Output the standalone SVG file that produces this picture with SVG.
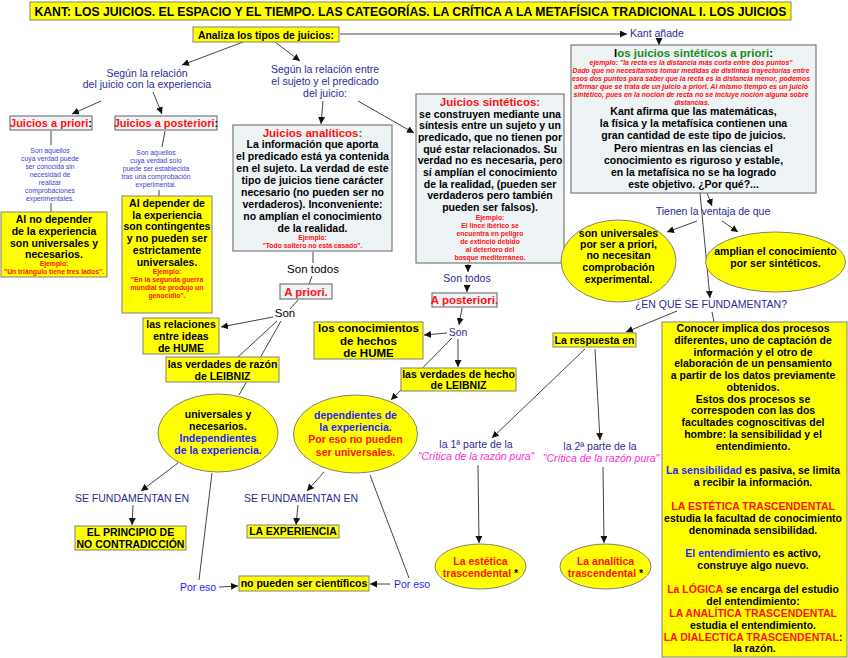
<svg xmlns="http://www.w3.org/2000/svg" width="848" height="658" viewBox="0 0 848 658">
<defs>
<marker id="ah" viewBox="0 0 10 10" refX="10" refY="5" markerWidth="7" markerHeight="7" markerUnits="userSpaceOnUse" orient="auto">
<path d="M0,0 L10,5 L0,10 z" fill="#111"/>
</marker>
<style>
text{font-family:"Liberation Sans",Arial,sans-serif}
.c{text-anchor:middle}
.b{font-weight:bold}
.n{font-size:10.5px}
.s{font-size:6.8px}
.lb{fill:#2b2b95;font-size:10.5px}
.bl{fill:#1f1fff}
.rd{fill:#ff1010}
.gr{fill:#1a8c1a}
.mg{fill:#ff2ad4;font-style:italic}
.sb{fill:#3d3dd6;font-size:6.8px}
.y{fill:#ffff00;stroke:#808080;stroke-width:1}
.g{fill:#eef3f5;stroke:#7a7a7a;stroke-width:1.2}
.conn line{stroke:#444;stroke-width:1;fill:none}
.conn line.a{marker-end:url(#ah)}
</style>
</defs>
<rect width="848" height="658" fill="#fff"/>

<g id="connectors" class="conn">
<line class="a" x1="340" y1="34" x2="627" y2="34"/>
<line class="a" x1="659" y1="38" x2="659" y2="45"/>
<line class="a" x1="243" y1="42" x2="182" y2="65"/>
<line class="a" x1="275" y1="42" x2="300" y2="61"/>
<line class="a" x1="101" y1="101" x2="72" y2="114"/>
<line class="a" x1="153" y1="92" x2="162" y2="114"/>
<line x1="51" y1="131" x2="51" y2="145"/>
<line x1="51" y1="203" x2="51" y2="212"/>
<line x1="165" y1="131" x2="162" y2="147"/>
<line x1="159" y1="190" x2="159" y2="196"/>
<line class="a" x1="323" y1="101" x2="321" y2="124"/>
<line class="a" x1="358" y1="101" x2="414" y2="133"/>
<line x1="313" y1="252" x2="313" y2="263"/>
<line x1="312" y1="276" x2="309" y2="284"/>
<line x1="298" y1="300" x2="290" y2="309"/>
<line class="a" x1="273" y1="317" x2="221" y2="327"/>
<line x1="277" y1="321" x2="238" y2="357"/>
<line x1="281" y1="321" x2="239" y2="395"/>
<line class="a" x1="178" y1="463" x2="141" y2="491"/>
<line class="a" x1="133" y1="505" x2="132" y2="525"/>
<line x1="212" y1="473" x2="199" y2="580"/>
<line class="a" x1="219" y1="587" x2="238" y2="586"/>
<line class="a" x1="468" y1="264" x2="468" y2="272"/>
<line class="a" x1="467" y1="285" x2="467" y2="292"/>
<line class="a" x1="462" y1="308" x2="459" y2="325"/>
<line class="a" x1="447" y1="333" x2="424" y2="335"/>
<line class="a" x1="458" y1="339" x2="458" y2="367"/>
<line class="a" x1="452" y1="338" x2="391" y2="400"/>
<line class="a" x1="324" y1="472" x2="307" y2="491"/>
<line class="a" x1="298" y1="505" x2="296" y2="525"/>
<line x1="370" y1="475" x2="409" y2="578"/>
<line class="a" x1="390" y1="584" x2="370" y2="584"/>
<line class="a" x1="707" y1="193" x2="712" y2="206"/>
<line class="a" x1="700" y1="193" x2="710" y2="298"/>
<line class="a" x1="697" y1="221" x2="667" y2="232"/>
<line class="a" x1="722" y1="221" x2="738" y2="232"/>
<line class="a" x1="677" y1="311" x2="626" y2="332"/>
<line x1="712" y1="312" x2="714" y2="322"/>
<line class="a" x1="585" y1="349" x2="492" y2="438"/>
<line class="a" x1="595" y1="349" x2="600" y2="440"/>
<line class="a" x1="478" y1="465" x2="479" y2="543"/>
<line class="a" x1="603" y1="467" x2="604" y2="543"/>
</g>

<g id="title">
<rect class="y" x="30" y="2" width="761" height="18"/>
<text class="c b" x="410.5" y="16" font-size="13" textLength="752" lengthAdjust="spacingAndGlyphs">KANT: LOS JUICIOS. EL ESPACIO Y EL TIEMPO. LAS CATEGORÍAS. LA CRÍTICA A LA METAFÍSICA TRADICIONAL I. LOS JUICIOS</text>
</g>

<g id="analiza">
<rect class="y" x="193" y="27" width="146" height="15"/>
<text class="c b" x="266" y="38.5" font-size="11" textLength="136" lengthAdjust="spacingAndGlyphs">Analiza los tipos de juicios:</text>
</g>

<g id="kant-anade"><text class="lb" x="630" y="37">Kant añade</text></g>

<g id="segun1"><text class="c lb"><tspan x="147" y="77">Según la relación</tspan><tspan x="147" y="88">del juicio con la experiencia</tspan></text></g>

<g id="segun2"><text class="c lb"><tspan x="325" y="73">Según la relación entre</tspan><tspan x="325" y="85">el sujeto y  el predicado</tspan><tspan x="325" y="97">del juicio:</tspan></text></g>

<g id="juicios-a-priori">
<rect class="g" x="10" y="116" width="82" height="14"/>
<text class="c b" x="51" y="127" font-size="11"><tspan class="rd">Juicios a priori</tspan>:</text>
</g>

<g id="juicios-a-posteriori">
<rect class="g" x="115" y="116" width="102" height="14"/>
<text class="c b" x="166" y="127" font-size="11"><tspan class="rd">Juicios a posteriori</tspan>:</text>
</g>

<g id="def-priori"><text class="c sb">
<tspan x="50" y="153">Son aquellos</tspan><tspan x="50" y="161">cuya verdad puede</tspan><tspan x="50" y="169">ser conocida sin</tspan><tspan x="50" y="177">necesidad de</tspan><tspan x="50" y="185">realizar</tspan><tspan x="50" y="193">comprobaciones</tspan><tspan x="50" y="201">experimentales.</tspan></text></g>

<g id="def-posteriori"><text class="c sb">
<tspan x="156" y="155">Son aquellos</tspan><tspan x="156" y="163">cuya verdad solo</tspan><tspan x="156" y="171">puede ser establecida</tspan><tspan x="156" y="179">tras una comprobación</tspan><tspan x="156" y="187">experimental.</tspan></text></g>

<g id="al-no-depender">
<rect class="y" x="1" y="212" width="106" height="65"/>
<text class="c b n"><tspan x="54" y="223">Al no depender</tspan><tspan x="54" y="235">de la experiencia</tspan><tspan x="54" y="247">son universales y</tspan><tspan x="54" y="258">necesarios.</tspan></text>
<text class="c b s rd"><tspan x="54" y="266">Ejemplo:</tspan><tspan x="54" y="274">"Un triángulo tiene tres lados".</tspan></text>
</g>

<g id="al-depender">
<rect class="y" x="122" y="196" width="90" height="117"/>
<text class="c b n"><tspan x="167" y="207">Al depender de</tspan><tspan x="167" y="219">la experiencia</tspan><tspan x="167" y="230">son contingentes</tspan><tspan x="167" y="242">y no pueden ser</tspan><tspan x="167" y="254">estrictamente</tspan><tspan x="167" y="266">universales.</tspan></text>
<text class="c b s rd"><tspan x="167" y="274">Ejemplo:</tspan><tspan x="167" y="282">"En la segunda guerra</tspan><tspan x="167" y="290">mundial se produjo un</tspan><tspan x="167" y="298">genocidio".</tspan></text>
</g>

<g id="analiticos">
<rect class="g" x="233" y="125" width="159" height="126"/>
<text class="c b" x="312.5" y="137" font-size="11.5"><tspan class="rd">Juicios analíticos</tspan><tspan class="gr">:</tspan></text>
<text class="c b n"><tspan x="312.5" y="148">La información que aporta</tspan><tspan x="312.5" y="160">el predicado está ya contenida</tspan><tspan x="312.5" y="172">en el sujeto. La verdad de este</tspan><tspan x="312.5" y="184">tipo de juicios tiene carácter</tspan><tspan x="312.5" y="196">necesario (no pueden ser no</tspan><tspan x="312.5" y="208">verdaderos). Inconveniente:</tspan><tspan x="312.5" y="220">no amplían el conocimiento</tspan><tspan x="312.5" y="232">de la realidad.</tspan></text>
<text class="c b s rd"><tspan x="312.5" y="240">Ejemplo:</tspan><tspan x="312.5" y="248">"Todo soltero no está casado".</tspan></text>
</g>

<g id="sinteticos">
<rect class="g" x="416" y="94" width="148" height="169"/>
<text class="c b rd" x="490" y="106" font-size="11.5">Juicios sintéticos:</text>
<text class="c b n"><tspan x="490" y="118">se construyen mediante una</tspan><tspan x="490" y="129">síntesis entre un sujeto y un</tspan><tspan x="490" y="141">predicado, que no tienen por</tspan><tspan x="490" y="153">qué estar relacionados. Su</tspan><tspan x="490" y="164">verdad no es necesaria, pero</tspan><tspan x="490" y="176">sí amplían el conocimiento</tspan><tspan x="490" y="188">de la realidad, (pueden ser</tspan><tspan x="490" y="199">verdaderos pero también</tspan><tspan x="490" y="211">pueden ser falsos).</tspan></text>
<text class="c b s rd"><tspan x="490" y="220">Ejemplo:</tspan><tspan x="490" y="228">El lince ibérico se</tspan><tspan x="490" y="236">encuentra en peligro</tspan><tspan x="490" y="244">de extinció debido</tspan><tspan x="490" y="252">al deterioro del</tspan><tspan x="490" y="260">bosque mediterráneo.</tspan></text>
</g>

<g id="sinteticos-a-priori">
<rect class="g" x="571" y="45" width="245" height="148"/>
<text class="c b" x="693.5" y="57" font-size="11.5">l<tspan class="gr">os juicios sintéticos a priori</tspan>:</text>
<text class="c b s rd" font-style="italic">
<tspan x="692" y="65" textLength="203" lengthAdjust="spacingAndGlyphs">ejemplo: "la recta es la distancia más corta entre dos puntos"</tspan>
<tspan x="692" y="73" textLength="237" lengthAdjust="spacingAndGlyphs">Dado que no necesitamos tomar medidas de distintas trayectorias entre</tspan>
<tspan x="692" y="81" textLength="238" lengthAdjust="spacingAndGlyphs">esos dos puntos para saber que la recta es la distancia menor, podemos</tspan>
<tspan x="692" y="89" textLength="234" lengthAdjust="spacingAndGlyphs">afirmar que se trata de un juicio a priori. Al mismo tiempo es un juicio</tspan>
<tspan x="692" y="97" textLength="235" lengthAdjust="spacingAndGlyphs">sintético, pues en la noción de recta no se incluye noción alguna sobre</tspan>
<tspan x="692" y="105">distancias.</tspan></text>
<text class="c b n"><tspan x="693.5" y="115">Kant afirma que las matemáticas,</tspan><tspan x="693.5" y="127">la física y la metafísica contienen una</tspan><tspan x="693.5" y="139">gran cantidad de este tipo de juicios.</tspan><tspan x="693.5" y="152">Pero mientras en las ciencias el</tspan><tspan x="693.5" y="164">conocimiento es riguroso y estable,</tspan><tspan x="693.5" y="176">en la metafísica no se ha logrado</tspan><tspan x="693.5" y="188">este objetivo. ¿Por qué?...</tspan></text>
</g>

<g id="tienen"><text class="c lb" x="713" y="215">Tienen la ventaja de que</text></g>

<g id="ell-universales-priori">
<ellipse class="y" cx="618.5" cy="261" rx="57.5" ry="41"/>
<text class="c b n"><tspan x="618.5" y="237">son universales</tspan><tspan x="618.5" y="248">por ser a priori,</tspan><tspan x="618.5" y="259">no necesitan</tspan><tspan x="618.5" y="271">comprobación</tspan><tspan x="618.5" y="283">experimental.</tspan></text>
</g>

<g id="ell-amplian">
<ellipse class="y" cx="775.5" cy="262" rx="70" ry="30"/>
<text class="c b n"><tspan x="775.5" y="255">amplian el conocimiento</tspan><tspan x="775.5" y="267">por ser sintéticos.</tspan></text>
</g>

<g id="en-que"><text class="c lb" x="711" y="308">¿EN QUÉ SE FUNDAMENTAN?</text></g>

<g id="son-todos-1"><text class="c" x="313" y="273" font-size="11.5">Son todos</text></g>

<g id="a-priori">
<rect class="g" x="280" y="284" width="52" height="15"/>
<text class="c b rd" x="306" y="295.5" font-size="11.5">A priori.</text>
</g>

<g id="son-1"><text class="c" x="285" y="317" font-size="11.5">Son</text></g>

<g id="relaciones-hume">
<rect class="y" x="143" y="318" width="76" height="36"/>
<text class="c b n"><tspan x="181" y="328">las relaciones</tspan><tspan x="181" y="340">entre ideas</tspan><tspan x="181" y="352">de HUME</tspan></text>
</g>

<g id="verdades-razon">
<rect class="y" x="166" y="357" width="113" height="25"/>
<text class="c b n"><tspan x="222.5" y="367.5">las verdades de razón</tspan><tspan x="222.5" y="379.5">de LEIBNIZ</tspan></text>
</g>

<g id="ell-universales">
<ellipse class="y" cx="218" cy="433" rx="60" ry="39"/>
<text class="c b n"><tspan x="218" y="418">universales y</tspan><tspan x="218" y="430">necesarios.</tspan><tspan class="bl" x="218" y="442">Independientes</tspan><tspan class="bl" x="218" y="454">de la experiencia.</tspan></text>
</g>

<g id="se-fund-1"><text class="c lb" x="132" y="502">SE FUNDAMENTAN EN</text></g>

<g id="principio">
<rect class="y" x="75" y="526" width="111" height="24"/>
<text class="c b n"><tspan x="130.5" y="536">EL PRINCIPIO DE</tspan><tspan x="130.5" y="548">NO CONTRADICCIÓN</tspan></text>
</g>

<g id="por-eso-1"><text class="c bl" x="198" y="591" font-size="10.5">Por eso</text></g>

<g id="no-pueden">
<rect class="y" x="239" y="576" width="130" height="15"/>
<text class="c b n" x="304" y="587">no pueden ser científicos</text>
</g>

<g id="son-todos-2"><text class="c lb" x="467" y="282">Son todos</text></g>

<g id="a-posteriori">
<rect class="g" x="432" y="293" width="65" height="14"/>
<text class="c b rd" x="464.5" y="304" font-size="11.5">A posteriori.</text>
</g>

<g id="son-2"><text class="c lb" x="458" y="336">Son</text></g>

<g id="conocimientos-hume">
<rect class="y" x="314" y="322" width="109" height="37"/>
<text class="c b" font-size="11.5"><tspan x="368.5" y="332">los conocimientos</tspan><tspan x="368.5" y="344.5">de hechos</tspan><tspan x="368.5" y="357">de HUME</tspan></text>
</g>

<g id="verdades-hecho">
<rect class="y" x="401" y="368" width="115" height="23"/>
<text class="c b n"><tspan x="458.5" y="377.5">las verdades de hecho</tspan><tspan x="458.5" y="389">de LEIBNIZ</tspan></text>
</g>

<g id="ell-dependientes">
<ellipse class="y" cx="355.5" cy="434" rx="62" ry="39"/>
<text class="c b n"><tspan class="bl" x="355.5" y="419">dependientes de</tspan><tspan class="bl" x="355.5" y="431">la experiencia.</tspan><tspan class="rd" x="355.5" y="443">Por eso no pueden</tspan><tspan class="rd" x="355.5" y="456">ser universales.</tspan></text>
</g>

<g id="se-fund-2"><text class="c lb" x="301" y="502">SE FUNDAMENTAN EN</text></g>

<g id="la-experiencia">
<rect class="y" x="247" y="525" width="92" height="13"/>
<text class="c b n" x="293" y="535">LA EXPERIENCIA</text>
</g>

<g id="por-eso-2"><text class="c bl" x="412" y="588" font-size="10.5">Por eso</text></g>

<g id="respuesta">
<rect class="y" x="553" y="333" width="83" height="14"/>
<text class="c b n" x="594.5" y="343.5">La respuesta en</text>
</g>

<g id="parte1"><text class="c" font-size="10.5"><tspan class="lb" x="476" y="448">la 1ª parte de la</tspan><tspan class="mg" x="476" y="460">"Crítica de la razón pura"</tspan></text></g>

<g id="parte2"><text class="c" font-size="10.5"><tspan class="lb" x="600" y="450">la 2ª parte de la</tspan><tspan class="mg" x="601" y="462">"Crítica de la razón pura"</tspan></text></g>

<g id="ell-estetica">
<ellipse class="y" cx="480.5" cy="566.5" rx="45.5" ry="22.5"/>
<text class="c b n"><tspan class="rd" x="480.5" y="565">La estética</tspan><tspan x="480.5" y="577"><tspan class="rd">trascendental</tspan> *</tspan></text>
</g>

<g id="ell-analitica">
<ellipse class="y" cx="605.5" cy="566.5" rx="45.5" ry="22.5"/>
<text class="c b n"><tspan class="rd" x="605.5" y="565">La analítica</tspan><tspan x="605.5" y="577"><tspan class="rd">trascendental</tspan> *</tspan></text>
</g>

<g id="conocer">
<rect class="y" x="662" y="322" width="185" height="335"/>
<text class="c b n">
<tspan x="754.5" y="332">Conocer implica dos procesos</tspan>
<tspan x="754.5" y="344">diferentes, uno de captación de</tspan>
<tspan x="754.5" y="356">información y el otro de</tspan>
<tspan x="754.5" y="367">elaboración de un pensamiento</tspan>
<tspan x="754.5" y="379">a partir de los datos previamente</tspan>
<tspan x="754.5" y="391">obtenidos.</tspan>
<tspan x="754.5" y="403">Estos dos procesos se</tspan>
<tspan x="754.5" y="414">correspoden con las dos</tspan>
<tspan x="754.5" y="426">facultades cognoscitivas del</tspan>
<tspan x="754.5" y="438">hombre: la sensibilidad y el</tspan>
<tspan x="754.5" y="450">entendimiento.</tspan>
<tspan x="754.5" y="474"><tspan class="bl">La sensibilidad</tspan> es pasiva, se limita</tspan>
<tspan x="754.5" y="486">a recibir la información.</tspan>
<tspan class="rd" x="754.5" y="510">LA ESTÉTICA TRASCENDENTAL</tspan>
<tspan x="754.5" y="522">estudia la facultad de conocimiento</tspan>
<tspan x="754.5" y="534">denominada sensibilidad.</tspan>
<tspan x="754.5" y="557"><tspan class="bl">El entendimiento</tspan> es activo,</tspan>
<tspan x="754.5" y="569">construye algo nuevo.</tspan>
<tspan x="754.5" y="593"><tspan class="rd">La LÓGICA</tspan> se encarga del estudio</tspan>
<tspan x="754.5" y="605">del entendimiento:</tspan>
<tspan class="rd" x="754.5" y="617">LA ANALÍTICA TRASCENDENTAL</tspan>
<tspan x="754.5" y="629">estudia el entendimiento.</tspan>
<tspan x="754.5" y="641"><tspan class="rd">LA DIALECTICA TRASCENDENTAL</tspan>:</tspan>
<tspan x="754.5" y="652">la razón.</tspan>
</text>
</g>
</svg>
